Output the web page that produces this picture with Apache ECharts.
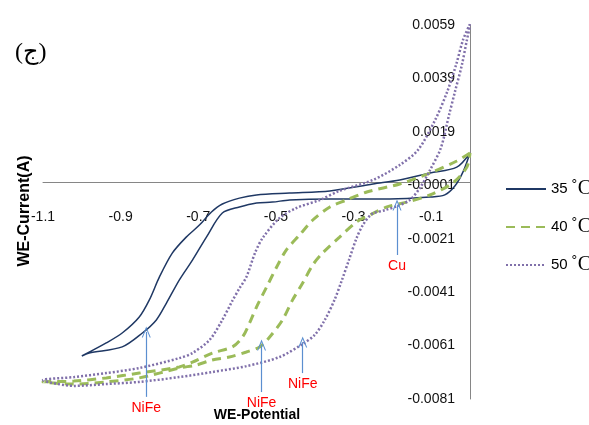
<!DOCTYPE html>
<html><head><meta charset="utf-8">
<script src="https://cdn.jsdelivr.net/npm/echarts@6/dist/echarts.min.js"></script>
<style>html,body{margin:0;padding:0;background:#fff}#c{width:589px;height:425px}</style>
</head><body><div id="c"></div>
<script>
const seriesNames = ['35 ˚C', '40 ˚C', '50 ˚C'];
const xTicks = [-1.1, -0.9, -0.7, -0.5, -0.3, -0.1];
const yTicks = [-0.0081, -0.0061, -0.0041, -0.0021, -0.0001, 0.0019, 0.0039, 0.0059];

const potential35 = [0,-0.034,-0.103,-0.181,-0.250,-0.361,-0.465,-0.550,-0.594,-0.638,-0.666,-0.697,-0.731,-0.767,-0.800,-0.826,-0.852,-0.896,-0.937,-1.000,-0.981,-0.896,-0.844,-0.808,-0.782,-0.749,-0.715,-0.679,-0.638,-0.594,-0.550,-0.509,-0.465,-0.361,-0.207,-0.103,-0.065,-0.039,-0.018,0];
const current35 = [0.00111,0.00058,0.00036,0.00010,-0.00005,-0.00031,-0.00039,-0.00046,-0.00058,-0.00080,-0.00110,-0.00159,-0.00204,-0.00264,-0.00353,-0.00439,-0.00503,-0.00563,-0.00600,-0.00649,-0.00638,-0.00615,-0.00563,-0.00514,-0.00451,-0.00365,-0.00290,-0.00204,-0.00114,-0.00091,-0.00076,-0.00073,-0.00065,-0.00061,-0.00061,-0.00054,-0.00046,-0.00013,0.00040,0.00111];

const potential40 = [0,-0.034,-0.103,-0.181,-0.266,-0.318,-0.361,-0.405,-0.439,-0.473,-0.498,-0.524,-0.550,-0.568,-0.586,-0.612,-0.664,-0.715,-0.749,-0.852,-0.937,-1.020,-1.100,-1.020,-0.937,-0.852,-0.749,-0.705,-0.664,-0.620,-0.576,-0.542,-0.516,-0.483,-0.457,-0.431,-0.405,-0.380,-0.336,-0.292,-0.258,-0.214,-0.163,-0.103,-0.044,-0.008,0];
const current40 = [0.00111,0.00081,0.00036,-0.00005,-0.00035,-0.00065,-0.00091,-0.00140,-0.00196,-0.00252,-0.00316,-0.00391,-0.00466,-0.00526,-0.00578,-0.00615,-0.00638,-0.00672,-0.00690,-0.00713,-0.00731,-0.00743,-0.00746,-0.00754,-0.00746,-0.00731,-0.00694,-0.00683,-0.00664,-0.00653,-0.00634,-0.00615,-0.00578,-0.00514,-0.00439,-0.00376,-0.00308,-0.00264,-0.00204,-0.00147,-0.00121,-0.00091,-0.00073,-0.00046,-0.00001,0.00058,0.00111];

const potential50 = [0,-0.018,-0.036,-0.059,-0.090,-0.134,-0.181,-0.250,-0.336,-0.387,-0.447,-0.491,-0.534,-0.553,-0.576,-0.594,-0.612,-0.638,-0.671,-0.715,-0.749,-0.852,-0.937,-1.020,-1.100,-1.020,-0.937,-0.852,-0.749,-0.664,-0.576,-0.491,-0.431,-0.400,-0.374,-0.349,-0.330,-0.312,-0.292,-0.276,-0.253,-0.219,-0.188,-0.155,-0.129,-0.103,-0.075,-0.054,-0.039,-0.021,-0.008,0];
const current50 = [0.00594,0.00534,0.00440,0.00339,0.00234,0.00122,0.00066,0.00010,-0.00031,-0.00065,-0.00095,-0.00133,-0.00207,-0.00260,-0.00353,-0.00396,-0.00442,-0.00514,-0.00589,-0.00638,-0.00657,-0.00694,-0.00713,-0.00728,-0.00739,-0.00761,-0.00754,-0.00746,-0.00728,-0.00709,-0.00687,-0.00653,-0.00604,-0.00570,-0.00514,-0.00439,-0.00365,-0.00290,-0.00207,-0.00159,-0.00118,-0.00103,-0.00088,-0.00065,-0.00020,0.00047,0.00130,0.00253,0.00339,0.00440,0.00534,0.00586];

const annotationLabels = ['NiFe', 'NiFe', 'NiFe', 'Cu'];
const annotationPotential = [-0.834, -0.537, -0.431, -0.188];
const annotationTip = [-0.00559, -0.00608, -0.00597, -0.00084];
const annotationTail = [-0.00802, -0.00784, -0.00713, -0.00271];

function zip(xs, ys) { return xs.map((x, i) => [x, ys[i]]); }

const chart = echarts.init(document.getElementById('c'), null, {renderer: 'canvas'});
const arrowPath = 'path://M5,0 L10,11 L8.8,11 L5,2.6 L1.2,11 L0,11 Z';
const markData = annotationLabels.map((lab, i) => [
  {coord: [annotationPotential[i], annotationTail[i]], name: lab},
  {coord: [annotationPotential[i], annotationTip[i]]}
]);
const GRID = {left: 43, right: 119, top: 25, bottom: 26};

const option = {
  animation: false,
  backgroundColor: '#fff',
  title: {
    text: '(ج)', left: 10, top: 36,
    textStyle: {fontFamily: 'Liberation Serif, DejaVu Sans', fontSize: 24, fontWeight: 'normal', color: '#000'}
  },
  grid: Object.assign({containLabel: false, outerBoundsMode: 'none'}, GRID),
  xAxis: {
    type: 'value',
    min: xTicks[0], max: 0, interval: 0.2,
    axisLine: {onZero: false, lineStyle: {color: '#868686', width: 1}},
    axisTick: {show: false},
    splitLine: {show: false},
    axisLabel: {
      margin: 28, showMaxLabel: false, showMinLabel: true,
      fontFamily: 'Liberation Sans', fontSize: 14, color: '#111',
      formatter: v => (Math.abs(v) < 1e-9 ? '' : v.toFixed(1))
    }
  },
  yAxis: {
    type: 'value', position: 'right',
    min: yTicks[0], max: yTicks[yTicks.length - 1], interval: 0.002,
    axisLine: {show: true, onZero: false, lineStyle: {color: '#868686', width: 1}},
    axisTick: {show: false},
    splitLine: {show: false},
    axisLabel: {
      inside: true, margin: 15,
      fontFamily: 'Liberation Sans', fontSize: 14, color: '#111',
      formatter: v => v.toFixed(4)
    }
  },
  legend: {
    data: seriesNames, orient: 'vertical', left: 500, top: 174,
    itemWidth: 40, itemHeight: 14, itemGap: 18,
    itemStyle: {opacity: 0},
    formatter: n => '{a|' + n.split(' ')[0] + '} {b|˚C}',
    textStyle: {
      color: '#000',
      rich: {
        a: {fontFamily: 'Liberation Sans', fontSize: 15, color: '#000'},
        b: {fontFamily: 'Liberation Serif', fontSize: 20, color: '#000'}
      }
    }
  },
  graphic: [
    {type: 'text', x: 25, y: 211, rotation: Math.PI / 2,
     style: {text: 'WE-Current(A)', textAlign: 'center', textVerticalAlign: 'middle',
             font: 'bold 16px "Liberation Sans"', fill: '#000'}},
    {type: 'text', x: 257, y: 415,
     style: {text: 'WE-Potential', textAlign: 'center', textVerticalAlign: 'middle',
             font: 'bold 14px "Liberation Sans"', fill: '#000'}}
  ],
  series: [
    {
      name: seriesNames[0], type: 'line', data: zip(potential35, current35),
      symbol: 'none', smooth: 0.3, clip: false,
      lineStyle: {color: '#1F3864', width: 1.5},
      itemStyle: {color: '#1F3864'},
      markLine: {
        silent: true, symbol: ['none', arrowPath], symbolSize: [9, 11],
        lineStyle: {color: '#5B8FD0', width: 1.2, type: 'solid'},
        itemStyle: {color: '#5B8FD0'},
        label: {show: true, position: 'start', distance: 4, formatter: '{b}',
                color: '#FF0000', fontFamily: 'Liberation Sans', fontSize: 14},
        emphasis: {disabled: true},
        data: markData
      }
    },
    {
      name: seriesNames[1], type: 'line', data: zip(potential40, current40),
      symbol: 'none', smooth: 0.3,
      lineStyle: {color: '#9BBB59', width: 3, type: [9, 6]},
      itemStyle: {color: '#9BBB59'}
    },
    {
      name: seriesNames[2], type: 'line', data: zip(potential50, current50),
      symbol: 'none', smooth: 0.3,
      lineStyle: {color: '#8070AA', width: 2.5, type: [2, 2]},
      itemStyle: {color: '#8070AA'}
    }
  ]
};
chart.setOption(option);
// move the x axis up so that it crosses the y axis at zero current
const zeroY = chart.convertToPixel({gridIndex: 0}, [0, 0])[1];
const gridBottomY = chart.getHeight() - GRID.bottom;
chart.setOption({xAxis: {offset: zeroY - gridBottomY}});
</script>
</body></html>
